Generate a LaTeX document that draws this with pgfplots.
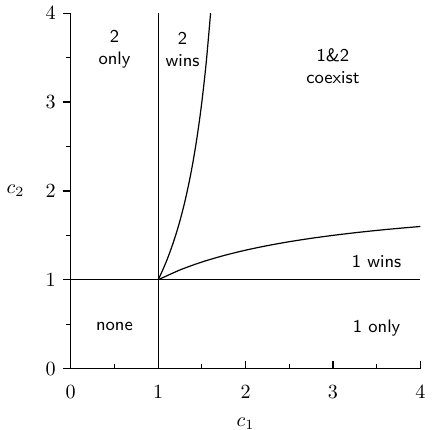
\documentclass[border=0pt]{standalone}
\usepackage{pgfplots}
\pgfplotsset{compat=1.18}
\begin{document}
\begin{tikzpicture}
\begin{axis}[
  scale only axis,
  width=174pt, height=177pt,
  xmin=0, xmax=4, ymin=0, ymax=4,
  axis x line=bottom, axis y line=left,
  axis line style={-, line width=0.6pt},
  xtick={0,1,2,3,4}, ytick={0,1,2,3,4},
  minor xtick={0.5,1.5,2.5,3.5}, minor ytick={0.5,1.5,2.5,3.5},
  major tick length=4pt, minor tick length=2.5pt,
  tick style={black, line width=0.6pt},
  xtick align=inside, ytick align=outside,
  xticklabel style={yshift=-5pt},
  xlabel={$c_1$}, ylabel={$c_2$},
  xlabel style={at={(axis description cs:0.5,-0.155)}, anchor=center, inner sep=0pt},
  ylabel style={rotate=-90, at={(axis description cs:-0.158,0.5)}, anchor=center},
  clip=false,
]
\addplot[black, line width=0.6pt] coordinates {(1,0) (1,4)};
\addplot[black, line width=0.6pt] coordinates {(0,1) (4,1)};
\addplot[black, line width=0.6pt, smooth] coordinates {
 (1,1) (1.05,1.1053) (1.1,1.2222) (1.15,1.3529) (1.2,1.5) (1.25,1.6667)
 (1.3,1.8571) (1.35,2.0769) (1.4,2.3333) (1.45,2.6364) (1.5,3) (1.55,3.4444) (1.6,4)};
\addplot[black, line width=0.6pt, smooth] coordinates {
 (1,1) (1.25,1.1111) (1.5,1.2) (1.75,1.2727) (2,1.3333) (2.25,1.3846) (2.5,1.4286)
 (2.75,1.4667) (3,1.5) (3.25,1.5294) (3.5,1.5556) (3.75,1.5789) (4,1.6)};
\node[align=center, font=\sffamily\small, inner sep=0pt] at (axis cs:0.5,3.59) {2\\only};
\node[align=center, font=\sffamily\small, inner sep=0pt] at (axis cs:1.28,3.59) {2\\wins};
\node[align=center, font=\sffamily\small, inner sep=0pt] at (axis cs:3.0,3.40) {1\&2\\coexist};
\node[font=\sffamily\small] at (axis cs:0.5,0.47) {none};
\node[font=\sffamily\small] at (axis cs:3.5,1.21) {1 wins};
\node[font=\sffamily\small] at (axis cs:3.5,0.46) {1 only};
\end{axis}
\end{tikzpicture}
\end{document}
